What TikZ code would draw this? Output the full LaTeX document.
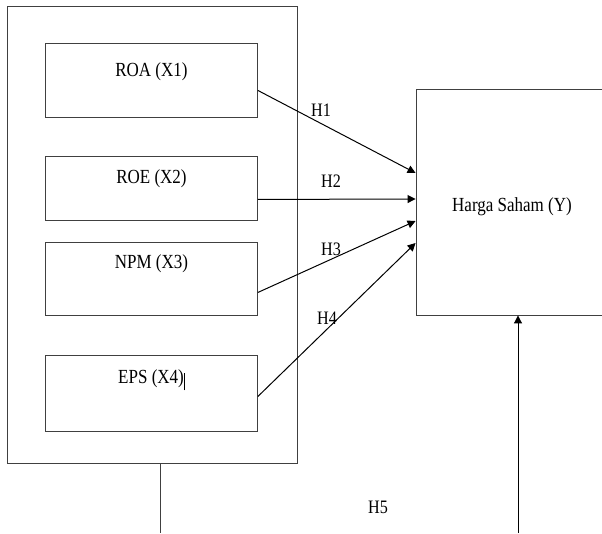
\documentclass[tikz,border=0pt]{standalone}
\usepackage{fontspec}
\setmainfont[FakeStretch=0.85]{Liberation Serif}
\usetikzlibrary{arrows.meta}

\begin{document}
\begin{tikzpicture}[x=1pt,y=-1pt,>={Triangle[length=8pt,width=8pt]},
    frame/.style={draw=black!75,line width=0.9pt},
    varbox/.style={frame,anchor=north west,minimum width=212pt,inner sep=0pt,font=\fontsize{20}{24}\selectfont},
    hyp/.style={inner sep=0pt,font=\fontsize{19}{23}\selectfont},
    link/.style={->,line width=1pt}]
    \useasboundingbox (0,0) rectangle (602,533);
    % independent variables
    \node[frame,minimum width=290pt,minimum height=457pt] (ratios) at (152,234.5) {};
    \node[varbox,text height=33pt,text depth=41pt] (roa) at (45,43) {ROA (X1)};
    \node[varbox,text height=27pt,text depth=37pt] (roe) at (45,156) {ROE (X2)};
    \node[varbox,text height=26pt,text depth=47pt] (npm) at (45,242) {NPM (X3)};
    \node[varbox,text height=28pt,text depth=48pt] (eps) at (45,355) {EPS (X4)\rule[-7pt]{0.8pt}{17pt}};
    % dependent variable
    \node[frame,minimum width=192pt,minimum height=226pt,text height=20pt,text depth=2pt,
        font=\fontsize{20}{24}\selectfont] (harga) at (512,202) {Harga Saham (Y)};
    % partial effects
    \draw[link] ([yshift=-10pt]roa.east) -- ([yshift=29pt]harga.west);
    \draw[link] ([yshift=-11pt]roe.east) -- ([yshift=3pt]harga.west);
    \draw[link] ([yshift=-13.5pt]npm.east) -- ([yshift=-19pt]harga.west);
    \draw[link] ([yshift=-3pt]eps.east) -- ([yshift=-41pt]harga.west);
    \node[hyp] (h1) at (321,110) {H1};
    \node[hyp] (h2) at (331,181) {H2};
    \node[hyp] (h3) at (331,249) {H3};
    \node[hyp] (h4) at (327,318) {H4};
    % simultaneous effect
    \coordinate (gfoot) at (160,533);
    \coordinate (hfoot) at (518,533);
    \draw[frame] (ratios.south -| gfoot) -- (gfoot);
    \draw[link] (hfoot) -- (hfoot |- harga.south);
    \node[hyp] (h5) at (378,507) {H5};
\end{tikzpicture}
\end{document}
